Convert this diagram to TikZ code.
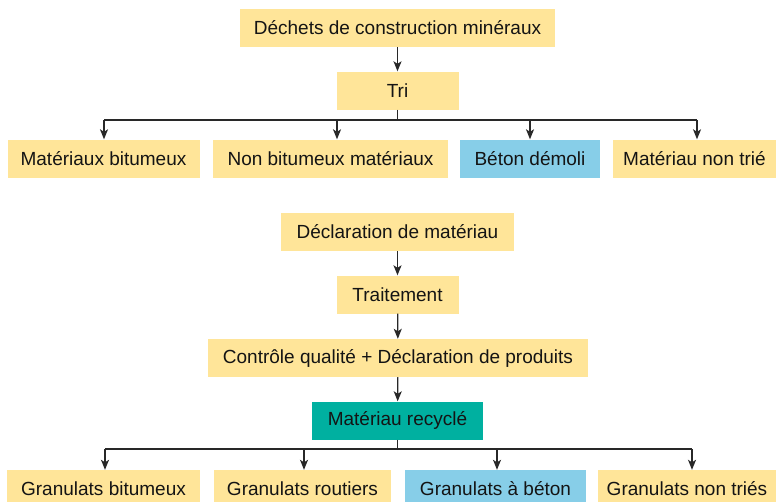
\documentclass[tikz,border=0pt]{standalone}
\usepackage{fontspec}
\setmainfont{Liberation Sans}
\usepackage{xcolor}
\usepackage{tikz}
\usetikzlibrary{arrows.meta,positioning,calc}
\definecolor{recyellow}{RGB}{255,229,153}
\definecolor{recblue}{RGB}{135,206,232}
\definecolor{recteal}{RGB}{0,176,160}
\definecolor{recline}{RGB}{40,40,40}
\definecolor{rectext}{RGB}{20,20,20}

\begin{document}
\begin{tikzpicture}[x=1pt, y=-1pt,
  every node/.style={font=\fontsize{19}{22}\selectfont, text=rectext,
    inner sep=0pt, minimum height=38pt},
  ybox/.style={fill=recyellow},
  bbox/.style={fill=recblue},
  tbox/.style={fill=recteal},
  arr/.style={draw=recline, line width=1.2pt,
    -{Stealth[length=10pt, width=8pt, inset=2.5pt]}},
  bus/.style={draw=recline, line width=1.2pt}]
\useasboundingbox (0,0) rectangle (776,501);

% sorting
\node[ybox, minimum width=315pt] (dechets) at (397.5,28) {Déchets de construction minéraux};
\node[ybox, minimum width=122pt] (tri) at (397.5,90.5) {Tri};
\node[ybox, minimum width=192pt] (mbit) at (103.5,158.5) {Matériaux bitumeux};
\node[ybox, minimum width=235pt] (nbit) at (330.5,158.5) {Non bitumeux matériaux};
\node[bbox, minimum width=140pt] (beton) at (530,158.5) {Béton démoli};
\node[ybox, minimum width=163pt] (ntrie) at (694.5,158.5) {Matériau non trié};

\draw[arr] (dechets) -- (tri);
\coordinate (bus1) at (397.5,120);
\draw[bus] (tri) -- (bus1);
\draw[bus] ([xshift=0.5pt]mbit.north |- bus1) -- ([xshift=2.5pt]ntrie.north |- bus1);
\foreach \n/\dx in {mbit/0.5, nbit/6.5, beton/0, ntrie/2.5}
  \draw[arr] ([xshift=\dx pt]\n.north |- bus1) -- ([xshift=\dx pt]\n.north);

% processing
\node[ybox, minimum width=233pt] (decl) at (397.5,232) {Déclaration de matériau};
\node[ybox, minimum width=122pt] (trait) at (397.5,294.5) {Traitement};
\node[ybox, minimum width=380pt] (ctrl) at (398,358) {Contrôle qualité + Déclaration de produits};
\node[tbox, minimum width=171pt] (recy) at (397.5,420.5) {Matériau recyclé};
\node[ybox, minimum width=193pt] (gbit) at (103.5,489) {Granulats bitumeux};
\node[ybox, minimum width=177pt] (groute) at (302.5,489) {Granulats routiers};
\node[bbox, minimum width=181pt] (gbeton) at (495.5,489) {Granulats à béton};
\node[ybox, minimum width=178pt] (gntries) at (687,489) {Granulats non triés};

\draw[arr] (decl) -- (trait);
\draw[arr] (trait) -- (ctrl);
\draw[arr] (ctrl) -- (recy);
\coordinate (bus2) at (397.5,449);
\draw[bus] (recy) -- (bus2);
\draw[bus] ([xshift=1.5pt]gbit.north |- bus2) -- ([xshift=5pt]gntries.north |- bus2);
\foreach \n/\dx in {gbit/1.5, groute/1.5, gbeton/1.5, gntries/5}
  \draw[arr] ([xshift=\dx pt]\n.north |- bus2) -- ([xshift=\dx pt]\n.north);
\end{tikzpicture}
\end{document}
